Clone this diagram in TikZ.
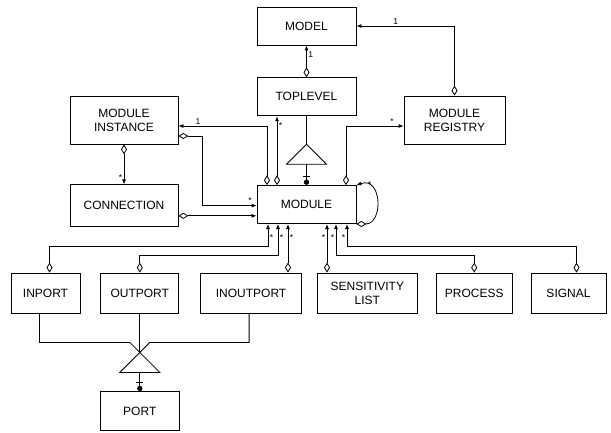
\documentclass[tikz,border=0pt]{standalone}
\usepackage{fontspec}
\setmainfont{Liberation Sans}
\usetikzlibrary{arrows.meta,positioning,calc}

\begin{document}
\begin{tikzpicture}[
  x=1pt, y=-1pt,
  font=\fontsize{12}{14}\selectfont,
  every node/.style={align=center},
  %% ─── styles ─────────────────────────────────────────────
  entity/.style={
    draw=black, line width=0.8pt, inner sep=2pt,
    minimum width=99pt, minimum height=38pt},
  aggr/.style={{Diamond[open,length=10pt,width=6pt]}-{Latex[length=5pt,width=4pt]}, line width=0.8pt},
  part/.style={{Latex[length=5pt,width=4pt]}-{Diamond[open,length=10pt,width=6pt]}, line width=0.8pt},
  genline/.style={line width=0.8pt},
  mult/.style={font=\fontsize{8.5}{9}\selectfont, inner sep=1.5pt},
  botmult/.style={mult, at start, yshift=-14pt}
]
  \useasboundingbox (0,0) rectangle (611,432);

  %% ════════════════════════════════════════════════════════
  %%  upper part: model hierarchy
  %% ════════════════════════════════════════════════════════
  \node[entity] (model) at (306.5,26) {MODEL};
  \node[entity, below=32pt of model] (toplevel) {TOPLEVEL};
  \node[entity, below=69pt of toplevel] (module) {MODULE};
  \node[entity, minimum width=108pt, minimum height=48pt] (inst) at (124,120) {MODULE\\INSTANCE};
  \node[entity, minimum width=108pt, minimum height=42pt, below=40pt of inst] (conn) {CONNECTION};
  \node[entity, minimum width=101pt, minimum height=48pt] (registry) at (454.5,120) {MODULE\\REGISTRY};

  %% ── lower row: parts of a module ───────────────────────
  \node[entity, minimum width=69pt, minimum height=40pt] (inport) at (45.5,293) {INPORT};
  \node[entity, minimum width=78pt, minimum height=40pt, right=20pt of inport] (outport) {OUTPORT};
  \node[entity, minimum width=101pt, minimum height=40pt, right=21pt of outport] (inout) {INOUTPORT};
  \node[entity, minimum width=100pt, minimum height=40pt, right=15pt of inout] (sens) {SENSITIVITY\\LIST};
  \node[entity, minimum width=76pt, minimum height=40pt, right=18pt of sens] (proc) {PROCESS};
  \node[entity, minimum width=75pt, minimum height=40pt, right=18pt of proc] (signal) {SIGNAL};
  \node[entity, minimum width=79pt, minimum height=39pt, below=78pt of outport] (port) {PORT};

  %% ════════════════════════════════════════════════════════
  %%  associations
  %% ════════════════════════════════════════════════════════
  \draw[aggr] (toplevel.north) -- node[mult, right, pos=0.7] {1} (model.south);
  \draw[aggr] (registry.north) |- node[mult, above, pos=0.8] {1} (model.east);
  \draw[aggr] ([xshift=39.5pt]module.north) |- node[mult, above, pos=0.9] {*} ([yshift=-6pt]registry.west);
  \draw[aggr] ([xshift=-29.5pt]module.north) -- node[mult, right, pos=0.86] {*} ([xshift=-29.5pt]toplevel.south);
  \draw[aggr] ([xshift=-39.5pt]module.north) |- node[mult, above, pos=0.89] {1} ([yshift=-6pt]inst.east);

  % instance and connection into module
  \draw[aggr] ([yshift=-16pt]inst.east) -- ++(24,0) |- node[mult, above, pos=0.94] {*} ([yshift=-1pt]module.west);
  \draw[aggr] ([yshift=-10pt]conn.east) -- ([yshift=-10pt]conn.east -| module.west);
  \draw[aggr] (inst.south) -- node[mult, left, pos=0.82] {*} (conn.north);

  % module contains modules
  \draw[aggr] (module.south east) to[out=0, in=20, looseness=1.8]
        node[mult, pos=0.85, right] {*} (module.north east);

  %% ── module parts (arrow into module bottom) ────────────
  \coordinate (m1) at ([xshift=-38.5pt]module.south);
  \coordinate (m2) at ([xshift=-28.5pt]module.south);
  \coordinate (m3) at ([xshift=-18.5pt]module.south);
  \coordinate (m4) at ([xshift=20.5pt]module.south);
  \coordinate (m5) at ([xshift=29.5pt]module.south);
  \coordinate (m6) at ([xshift=40.5pt]module.south);

  \draw[part] (m1) -- node[botmult, right] {*} ++(0,22) -| ([xshift=4pt]inport.north);
  \draw[part] (m2) -- node[botmult, right] {*} ++(0,31) -| (outport.north);
  \draw[part] (m3) -- node[botmult, right] {*} (m3 |- inout.north);
  \draw[part] (m4) -- node[botmult, left] {*} (m4 |- sens.north);
  \draw[part] (m5) -- node[botmult, left] {*} ++(0,31) -| (proc.north);
  \draw[part] (m6) -- node[botmult, left] {*} ++(0,22) -| ([xshift=8pt]signal.north);

  %% ════════════════════════════════════════════════════════
  %%  generalisation triangles
  %% ════════════════════════════════════════════════════════
  \coordinate[below=28pt of toplevel] (tapex);
  \coordinate (tbase) at ($(tapex)+(0,20)$);
  \coordinate (tdot) at ($(module.north)+(0,-3)$);
  \draw[genline] (tapex) -- ++(-20,20) -- ++(40,0) -- cycle;
  \draw[genline] (toplevel.south) -- (tapex);
  \draw[genline] (tbase) -- (module.north);
  \draw[genline] ($(tdot)+(-3.5,-6)$) -- ++(7,0);
  \fill (tdot) circle (2.7pt);

  \coordinate[below=39pt of outport] (papex);
  \coordinate (pbase) at ($(papex)+(0,20)$);
  \coordinate (pdot) at ($(port.north)+(0,-3)$);
  \draw[genline] (papex) -- ++(-20,20) -- ++(40,0) -- cycle;
  \draw[genline] ([xshift=-6pt]inport.south) |- ($(papex)+(-10,-10)$) -- (papex);
  \draw[genline] (outport.south) -- (papex);
  \draw[genline] ([xshift=-2pt]inout.south) |- ($(papex)+(10,-10)$) -- (papex);
  \draw[genline] (pbase) -- (port.north);
  \draw[genline] ($(pdot)+(-3.5,-6)$) -- ++(7,0);
  \fill (pdot) circle (2.7pt);

\end{tikzpicture}
\end{document}
